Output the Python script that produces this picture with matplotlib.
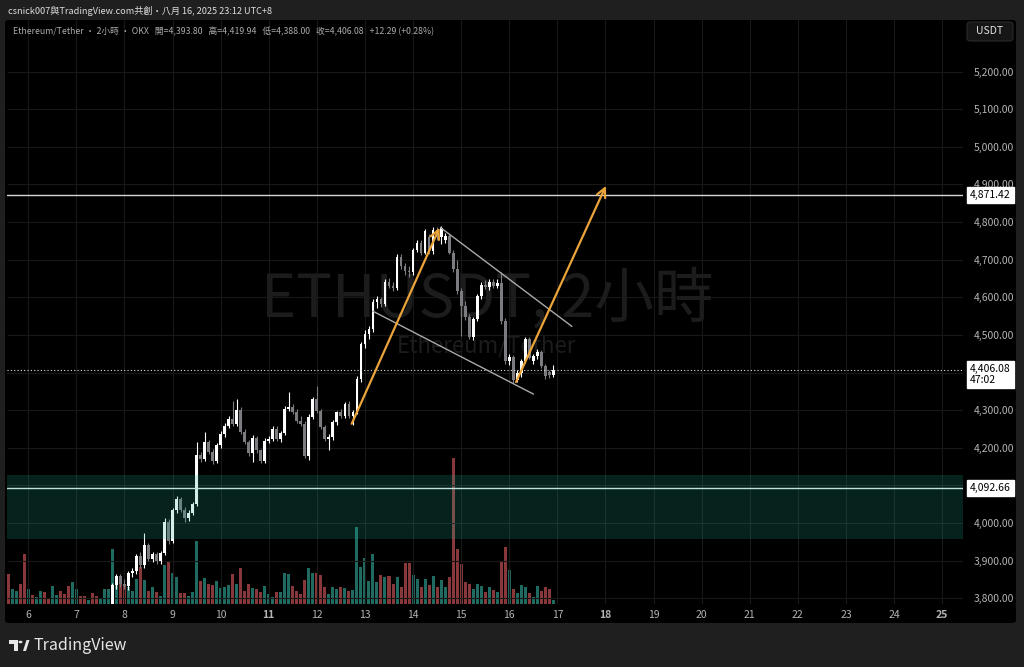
import matplotlib.pyplot as plt
import numpy as np
from matplotlib import transforms
from matplotlib.patches import FancyBboxPatch, Polygon, Circle

plt.rcParams['font.family'] = ['Noto Sans CJK TC', 'DejaVu Sans']

# 2h ETH/USDT candles, Aug 5 14:00 -> Aug 16 22:00
opens = [3700, 3680, 3692, 3710, 3695, 3640, 3660, 3648, 3662, 3675, 3668, 3660, 3674, 3690, 3682, 3676,
         3664, 3680, 3698, 3690, 3684, 3695, 3688, 3680, 3700, 3722, 3760, 3835, 3859, 3838, 3833, 3867,
         3874, 3912, 3888, 3941, 3904, 3917, 3899, 3920, 4002, 3952, 4034, 4063, 4036, 4013, 4028, 4050,
         4182, 4171, 4216, 4190, 4166, 4208, 4238, 4259, 4277, 4264, 4301, 4243, 4216, 4185, 4227, 4193,
         4166, 4219, 4224, 4251, 4224, 4240, 4304, 4309, 4296, 4272, 4264, 4179, 4282, 4330, 4298, 4256,
         4224, 4230, 4269, 4296, 4285, 4317, 4285, 4296, 4383, 4476, 4502, 4515, 4587, 4595, 4581, 4642,
         4629, 4626, 4708, 4682, 4669, 4666, 4727, 4745, 4719, 4760, 4722, 4780, 4759, 4752, 4762, 4719,
         4676, 4616, 4576, 4547, 4494, 4542, 4603, 4634, 4628, 4640, 4630, 4638, 4537, 4431, 4441, 4380,
         4400, 4431, 4489, 4430, 4444, 4455, 4418, 4402, 4393.80]
highs = [3712, 3698, 3716, 3718, 3702, 3668, 3666, 3668, 3682, 3684, 3674, 3680, 3696, 3698, 3690, 3682,
         3686, 3704, 3706, 3696, 3700, 3702, 3694, 3706, 3728, 3768, 3842, 3866, 3864, 3852, 3872, 3880,
         3918, 3922, 3973, 3948, 3924, 3922, 3926, 4013, 4010, 4040, 4072, 4070, 4042, 4036, 4056, 4216,
         4190, 4243, 4222, 4196, 4214, 4244, 4266, 4284, 4325, 4330, 4308, 4250, 4222, 4234, 4232, 4198,
         4226, 4232, 4258, 4258, 4246, 4310, 4349, 4316, 4302, 4284, 4272, 4290, 4336, 4365, 4304, 4262,
         4238, 4274, 4298, 4302, 4322, 4324, 4300, 4392, 4482, 4512, 4524, 4596, 4604, 4602, 4650, 4652,
         4640, 4714, 4716, 4690, 4684, 4732, 4752, 4752, 4782, 4768, 4786, 4788, 4790, 4770, 4768, 4726,
         4700, 4624, 4590, 4556, 4548, 4610, 4640, 4646, 4648, 4650, 4650, 4666, 4544, 4450, 4446, 4408,
         4436, 4495, 4494, 4450, 4462, 4460, 4424, 4408, 4419.94]
lows = [3674, 3672, 3686, 3690, 3628, 3632, 3640, 3642, 3656, 3662, 3654, 3655, 3668, 3676, 3670, 3658,
        3660, 3674, 3684, 3678, 3680, 3682, 3672, 3676, 3694, 3716, 3752, 3826, 3830, 3826, 3822, 3858,
        3866, 3880, 3882, 3898, 3896, 3890, 3892, 3914, 3944, 3946, 4028, 4030, 4004, 4006, 4022, 4046,
        4162, 4166, 4184, 4158, 4160, 4200, 4230, 4252, 4258, 4258, 4238, 4210, 4178, 4163, 4186, 4160,
        4160, 4212, 4218, 4218, 4216, 4234, 4298, 4290, 4266, 4258, 4172, 4169, 4276, 4292, 4250, 4218,
        4193, 4222, 4262, 4280, 4278, 4280, 4262, 4290, 4376, 4466, 4490, 4508, 4572, 4574, 4576, 4624,
        4618, 4620, 4676, 4660, 4655, 4660, 4720, 4712, 4714, 4716, 4716, 4752, 4742, 4744, 4714, 4668,
        4610, 4497, 4540, 4488, 4486, 4536, 4596, 4622, 4620, 4624, 4624, 4530, 4424, 4420, 4372, 4374,
        4388, 4426, 4436, 4424, 4436, 4412, 4384, 4386, 4388.00]
closes = [3680, 3692, 3710, 3695, 3640, 3660, 3648, 3662, 3675, 3668, 3660, 3674, 3690, 3682, 3676, 3664,
          3680, 3698, 3690, 3684, 3695, 3688, 3680, 3700, 3722, 3760, 3835, 3859, 3838, 3833, 3867, 3874,
          3912, 3888, 3941, 3904, 3917, 3899, 3920, 4002, 3952, 4034, 4063, 4036, 4013, 4028, 4050, 4182,
          4171, 4216, 4190, 4166, 4208, 4238, 4259, 4277, 4264, 4301, 4243, 4216, 4185, 4227, 4193, 4166,
          4219, 4224, 4251, 4224, 4240, 4304, 4309, 4296, 4272, 4264, 4179, 4282, 4330, 4298, 4256, 4224,
          4230, 4269, 4296, 4285, 4317, 4285, 4296, 4383, 4476, 4502, 4515, 4587, 4595, 4581, 4642, 4629,
          4626, 4708, 4682, 4669, 4666, 4727, 4745, 4719, 4775, 4722, 4780, 4759, 4785, 4762, 4719, 4676,
          4616, 4576, 4547, 4494, 4542, 4603, 4634, 4628, 4640, 4630, 4638, 4537, 4431, 4441, 4380, 4400,
          4431, 4489, 4440, 4444, 4455, 4418, 4391, 4393.80, 4406.08]
volumes = [90, 45, 40, 60, 150, 45, 28, 22, 38, 35, 15, 55, 28, 40, 30, 55,
           65, 45, 25, 25, 12, 32, 25, 15, 45, 45, 165, 85, 70, 60, 50, 40,
           75, 110, 72, 40, 52, 35, 25, 118, 128, 92, 82, 32, 32, 25, 35, 190,
           68, 78, 60, 58, 70, 48, 52, 58, 90, 60, 108, 38, 60, 48, 45, 35,
           53, 30, 20, 35, 35, 93, 90, 53, 40, 30, 72, 108, 92, 92, 88, 50,
           30, 50, 45, 52, 48, 38, 42, 232, 110, 138, 70, 150, 65, 87, 80, 85,
           60, 80, 50, 122, 124, 87, 75, 52, 76, 56, 85, 50, 72, 50, 82, 438,
           164, 120, 65, 60, 45, 60, 55, 35, 50, 42, 35, 128, 170, 102, 45, 32,
           58, 50, 32, 22, 55, 40, 52, 45, 12]

days = list(range(6, 26))
bold_days = [11, 18, 25]
price_ticks = list(range(3800, 5300, 100))
hidden_price_labels = [4100, 4400]

resistance = 4871.42
support = 4092.66
zone_low, zone_high = 3958, 4127
last_price = 4406.08
countdown = '47:02'

# drawn trend lines (bar index, price)
impulse_1 = [(85.7, 4264), (107.6, 4785)]
impulse_2 = [(126.7, 4375), (149.1, 4896)]
channel_top = [(107.9, 4785), (140.6, 4523)]
channel_bottom = [(91.0, 4563), (131.0, 4343)]

UP = '#ffffff'
DOWN = '#7b7b80'
VOL_UP = '#1f6a61'
VOL_DOWN = '#88383a'
ORANGE = '#eba43a'
TEXT = '#b4b4b4'

o = np.array(opens)
h = np.array(highs)
l = np.array(lows)
c = np.array(closes)
v = np.array(volumes)
x = np.arange(len(o))
up = c >= o

W, H = 1024, 667
fig = plt.figure(figsize=(10.24, 6.67), dpi=100, facecolor='#1f1f1f')


def px(xp, yp):
    return xp / W, 1 - yp / H


# black chart panel
fx0, fy0 = px(5, 623)
fx1, fy1 = px(1016, 20)
fig.patches.append(FancyBboxPatch((fx0, fy0), fx1 - fx0, fy1 - fy0, boxstyle='round,pad=0,rounding_size=0.004',
                                  transform=fig.transFigure, fc='black', ec='none', zorder=0))

rect = [7 / W, (H - 604) / H, 956 / W, 584 / H]
xlim = (-0.3, 238.2)
ylim = (3785, 5337)

# volume layer (also carries the grid)
vax = fig.add_axes(rect, zorder=1)
vax.set_facecolor('black')
vax.bar(x, v, width=0.75, color=np.where(up, VOL_UP, VOL_DOWN), lw=0)
vax.set_xlim(*xlim)
vax.set_ylim(0, max(volumes) * 4.0)
for s in vax.spines.values():
    s.set_visible(False)
vax.set_yticks([])
vax.set_xticks([12 * d - 67 for d in days])
vax.tick_params(axis='x', length=0, labelbottom=False)
vax.grid(axis='x', color='#181818', lw=0.8)

ax = fig.add_axes(rect, zorder=2)
ax.patch.set_visible(False)
ax.set_xlim(*xlim)
ax.set_ylim(*ylim)
for s in ax.spines.values():
    s.set_visible(False)

grid_tf = transforms.blended_transform_factory(vax.transAxes, ax.transData)
vax.hlines(price_ticks, 0, 1, transform=grid_tf, color='#181818', lw=0.8)

# watermark
ax.text(0.502, 0.52, 'ETHUSDT, 2小時', transform=ax.transAxes, ha='center', va='center',
        fontsize=43, color='#1c1c1c', zorder=0)
ax.text(0.502, 0.442, 'Ethereum/Tether', transform=ax.transAxes, ha='center', va='center',
        fontsize=16, color='#1c1c1c', zorder=0)

# candles
cols = np.where(up, UP, DOWN)
ax.vlines(x, l, h, colors=cols, lw=0.8, zorder=3)
ax.bar(x, np.maximum(np.abs(c - o), 1.5), bottom=np.minimum(o, c), width=0.7, color=cols, lw=0, zorder=4)

# demand zone and levels
ax.axhspan(zone_low, zone_high, color='#22ab94', alpha=0.2, lw=0, zorder=5)
ax.axhline(support, color='#bfe3dc', lw=1.0, zorder=6)
ax.axhline(resistance, color='#d6d6d6', lw=1.0, zorder=6)
ax.axhline(last_price, color='#e0e0e0', lw=0.8, ls=(0, (1, 2)), zorder=6)

# channel and projected moves
for (x0, y0), (x1, y1) in [channel_top, channel_bottom]:
    ax.plot([x0, x1], [y0, y1], color='#a9a9a9', lw=1.0, zorder=7)
for start, end in [impulse_1, impulse_2]:
    ax.annotate('', xy=end, xytext=start,
                arrowprops=dict(arrowstyle='->', color=ORANGE, lw=1.6, mutation_scale=16,
                                shrinkA=0, shrinkB=0), zorder=8)

# axes labels
ax.set_xticks([12 * d - 67 for d in days])
ax.set_xticklabels([str(d) for d in days])
for lab, d in zip(ax.get_xticklabels(), days):
    if d in bold_days:
        lab.set_fontweight('bold')
ax.tick_params(axis='x', length=0, pad=4, labelsize=7.5, colors=TEXT)
ax.set_yticks(price_ticks)
ax.set_yticklabels(['' if p in hidden_price_labels else f'{p:,.2f}' for p in price_ticks])
ax.yaxis.tick_right()
ax.tick_params(axis='y', length=0, pad=8, labelsize=7.5, colors=TEXT)

label_tf = transforms.blended_transform_factory(ax.transAxes, ax.transData)
box = dict(boxstyle='square,pad=0.3', fc='white', ec='white')
for val in [resistance, support]:
    ax.text(1.0075, val, f'{val:,.2f}', transform=label_tf, ha='left', va='center',
            fontsize=7.5, color='black', bbox=box, clip_on=False)
ax.text(1.0075, last_price - 12, f'{last_price:,.2f}\n{countdown}', transform=label_tf, ha='left',
        va='center', fontsize=7.5, color='black', linespacing=1.1, bbox=box, clip_on=False)

# currency button
bx0, by0 = px(967, 41)
bx1, by1 = px(1013, 22)
fig.patches.append(FancyBboxPatch((bx0, by0), bx1 - bx0, by1 - by0,
                                  boxstyle='round,pad=0,rounding_size=0.004', transform=fig.transFigure,
                                  fc='#161616', ec='#2a2a2a', lw=0.8, zorder=3))
fig.text(*px(990, 31.5), 'USDT', ha='center', va='center', fontsize=7.5, color='#e0e0e0', zorder=4)

# header texts
fig.text(*px(8, 10.5), 'csnick007與TradingView.com共創・八月 16, 2025 23:12 UTC+8',
         ha='left', va='center', fontsize=6.6, color='#dcdcdc')
fig.text(*px(13, 31), 'Ethereum/Tether · 2小時 · OKX   開=4,393.80   高=4,419.94   低=4,388.00   '
                      '收=4,406.08   +12.29 (+0.28%)',
         ha='left', va='center', fontsize=6.3, color='#ababab')

# TradingView logo
logo = '#e6e6e6'
fig.patches.append(Polygon([px(9, 640), px(18, 640), px(18, 651), px(14, 651), px(14, 644), px(9, 644)],
                           closed=True, transform=fig.transFigure, fc=logo, ec='none'))
cx, cy = px(20.5, 642)
fig.patches.append(Circle((cx, cy), 2.0 / W, transform=fig.transFigure, fc=logo, ec='none'))
fig.patches.append(Polygon([px(23, 651), px(26.5, 640), px(29.5, 640), px(26, 651)],
                           closed=True, transform=fig.transFigure, fc=logo, ec='none'))
fig.text(*px(34, 645), 'TradingView', ha='left', va='center', fontsize=11.5, color=logo, fontweight='medium')

fig.savefig('out.png', dpi=100, facecolor=fig.get_facecolor())
